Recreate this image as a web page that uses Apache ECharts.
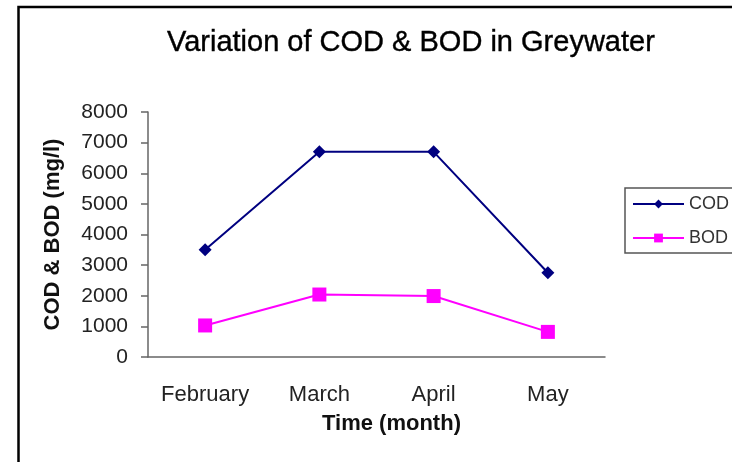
<!DOCTYPE html>
<html>
<head>
<meta charset="utf-8" />
<script src="https://cdn.jsdelivr.net/npm/echarts@6/dist/echarts.min.js"></script>
<style>
  html, body { margin: 0; padding: 0; background: #fff; }
  #chart { width: 732px; height: 462px; }
</style>
</head>
<body>
<div id="chart"></div>
<script>
const months = ["February", "March", "April", "May"];
const codValues = [3500, 6700, 6700, 2750];
const bodValues = [1030, 2040, 1990, 820];
const yTicks = [0, 1000, 2000, 3000, 4000, 5000, 6000, 7000, 8000];

const fontFamily = "Liberation Sans, Arial, sans-serif";

const option = {
  backgroundColor: "#fff",
  animation: false,
  title: {
    text: "Variation of COD & BOD in Greywater",
    left: 167,
    top: 28,
    padding: 0,
    textStyle: { fontFamily, fontSize: 29, fontWeight: "normal", color: "#000", textBorderColor: "#000", textBorderWidth: 0.4 }
  },
  legend: {
    orient: "vertical",
    left: 625,
    top: 188,
    padding: [7, 40, 6, 7],
    itemGap: 16,
    itemWidth: 51,
    itemHeight: 11,
    borderColor: "#555",
    borderWidth: 1.5,
    textStyle: { fontFamily, fontSize: 18, color: "#333" },
    data: ["COD", "BOD"]
  },
  grid: {
    left: 148,
    right: 127,
    top: 112,
    bottom: 105
  },
  xAxis: {
    type: "category",
    data: months,
    boundaryGap: true,
    name: "Time (month)",
    nameLocation: "middle",
    nameGap: 56,
    nameTextStyle: { fontFamily, fontSize: 22, fontWeight: "bold", color: "#111", padding: [0, 0, 0, 30] },
    axisLine: { lineStyle: { color: "#666", width: 1.5 } },
    axisTick: { length: 6, lineStyle: { color: "#666", width: 1.5 } },
    axisLabel: { interval: 0, fontFamily, fontSize: 22, color: "#222", margin: 27 }
  },
  yAxis: {
    type: "value",
    min: yTicks[0],
    max: yTicks[yTicks.length - 1],
    interval: 1000,
    name: "COD & BOD (mg/l)",
    nameLocation: "middle",
    nameGap: 84,
    nameTextStyle: { fontFamily, fontSize: 22, fontWeight: "bold", color: "#111" },
    splitLine: { show: false },
    axisLine: { show: true, lineStyle: { color: "#666", width: 1.5 } },
    axisTick: { show: true, length: 7, lineStyle: { color: "#666", width: 1.5 } },
    axisLabel: { fontFamily, fontSize: 21, color: "#222", margin: 20, formatter: (v) => String(v) }
  },
  graphic: [
    {
      type: "rect",
      shape: { x: 18.5, y: 7, width: 900, height: 900 },
      style: { fill: "none", stroke: "#000", lineWidth: 2.5 },
      silent: true
    }
  ],
  series: [
    {
      name: "COD",
      type: "line",
      data: codValues,
      symbol: "diamond",
      symbolSize: 13,
      color: "#000080",
      lineStyle: { color: "#000080", width: 2 },
      itemStyle: { color: "#000080" }
    },
    {
      name: "BOD",
      type: "line",
      data: bodValues,
      symbol: "rect",
      symbolSize: 14,
      color: "#ff00ff",
      lineStyle: { color: "#ff00ff", width: 2 },
      itemStyle: { color: "#ff00ff" }
    }
  ]
};

const chart = echarts.init(document.getElementById("chart"));
chart.setOption(option);
</script>
</body>
</html>
